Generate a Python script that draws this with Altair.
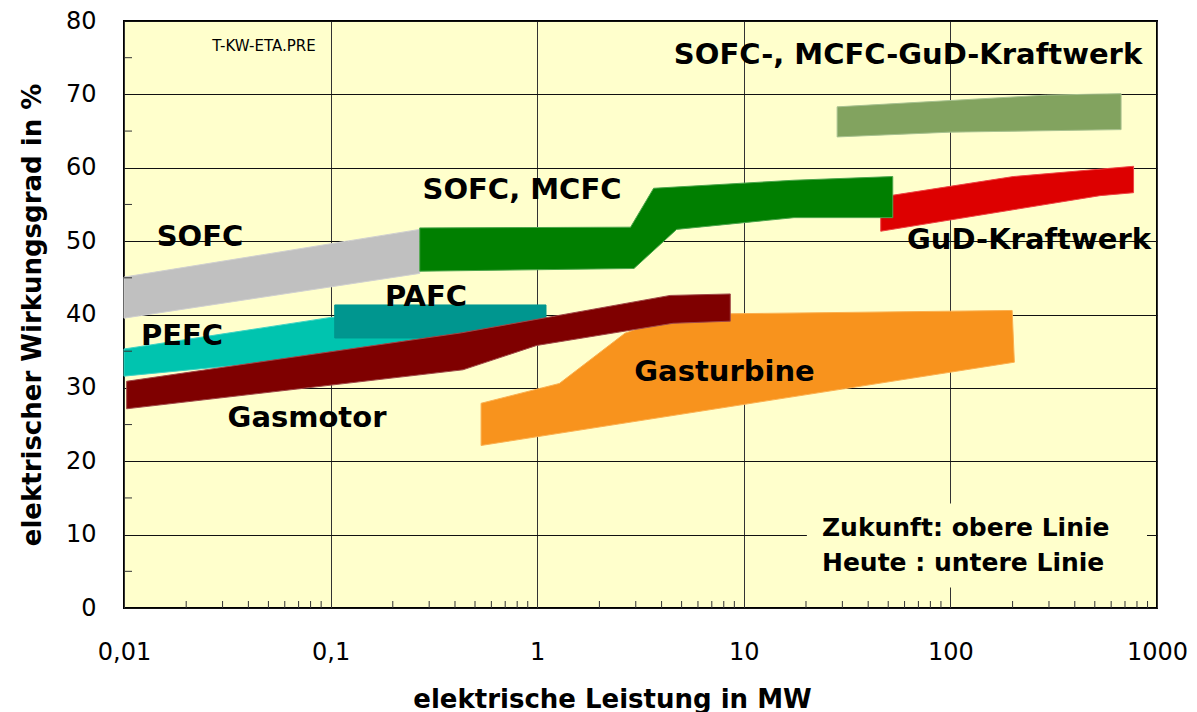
import altair as alt
import pandas as pd

# Efficiency bands: (power in MW, efficiency in %) along the upper (future)
# and lower (today) boundary of each technology.
GASTURBINE_UPPER = [(0.535, 27.9), (1.28, 30.6), (2.66, 37.45), (4.54, 39.75), (8.6, 40.1), (199, 40.55)]
GASTURBINE_LOWER = [(0.535, 22.15), (204, 33.5)]

GUD_UPPER = [(46.0, 56.0), (201.5, 58.8), (770, 60.2)]
GUD_LOWER = [(46.0, 51.35), (530, 56.2), (770, 56.6)]

PEFC_UPPER = [(0.01, 35.3), (0.1, 39.6), (1.0, 41.0)]
PEFC_LOWER = [(0.01, 31.6), (1.0, 37.0)]

PAFC_UPPER = [(0.1047, 41.3), (1.103, 41.3)]
PAFC_LOWER = [(0.1047, 36.8), (1.103, 36.8)]

GASMOTOR_UPPER = [(0.0103, 30.9), (0.43, 37.5), (4.4, 42.6), (8.6, 42.8)]
GASMOTOR_LOWER = [(0.0103, 27.15), (0.437, 32.46), (0.9945, 35.78), (4.54, 38.8), (8.6, 39.09)]

SOFC_UPPER = [(0.01, 45.1), (0.27, 51.6)]
SOFC_LOWER = [(0.01, 39.5), (0.27, 45.6)]

SOFC_MCFC_UPPER = [(0.27, 51.8), (2.83, 51.9), (3.66, 57.2), (17.5, 58.3), (52.6, 58.8)]
SOFC_MCFC_LOWER = [(0.27, 45.9), (2.94, 46.27), (4.73, 51.6), (17.5, 53.2), (52.6, 53.2)]

HYBRID_UPPER = [(28.3, 68.3), (292, 69.9), (670, 70.1)]
HYBRID_LOWER = [(28.3, 64.2), (99.5, 64.85), (670, 65.2)]

# Band labels
LABEL_TEXT = ["SOFC", "SOFC, MCFC", "SOFC-, MCFC-GuD-Kraftwerk", "GuD-Kraftwerk",
              "PAFC", "PEFC", "Gasmotor", "Gasturbine"]
LABEL_X = [0.02332, 0.8441, 62.35, 240.2, 0.2895, 0.01909, 0.0769, 8.065]
LABEL_Y = [50.56, 56.90, 75.43, 50.09, 42.32, 37.03, 25.83, 32.10]

NOTE_TEXT = ["Zukunft: obere Linie", "Heute   : untere Linie"]
NOTE_X = [23.9, 23.9]
NOTE_Y = [10.97, 6.20]

FILE_TAG = "T-KW-ETA.PRE"

X_TICKS = [0.01, 0.1, 1, 10, 100, 1000]
Y_TICKS = [0, 10, 20, 30, 40, 50, 60, 70, 80]
X_MINOR = [m * 10.0 ** e for e in range(-2, 3) for m in range(2, 10)]
Y_MINOR = [5, 15, 25, 35, 45, 55, 65, 75]

W, H = 1033, 587
BG = "#FFFFCC"
FONT = "DejaVu Sans"

x_scale = alt.Scale(type="log", domain=[0.01, 1000], nice=False)
y_scale = alt.Scale(domain=[0, 80], nice=False)

x_axis = alt.Axis(
    values=X_TICKS,
    labelExpr="replace(toString(datum.value), '.', ',')",
    grid=True, gridColor="#333333", gridWidth=1,
    ticks=False, tickSize=0, domain=False,
    labelFont=FONT, labelFontSize=24, labelColor="#000000",
    labelPadding=32, labelFlush=False, labelOverlap=False,
    title="elektrische Leistung in MW",
    titleFont=FONT, titleFontSize=26, titleFontWeight="bold", titleColor="#000000",
    titleX=488, titleY=99, titleAlign="center", titleBaseline="alphabetic",
)
y_axis = alt.Axis(
    values=Y_TICKS,
    grid=True, gridColor="#111111", gridWidth=1,
    ticks=False, tickSize=0, domain=False,
    labelFont=FONT, labelFontSize=24, labelColor="#000000",
    labelPadding=28, labelOverlap=False,
    title="elektrischer Wirkungsgrad in %",
    titleFont=FONT, titleFontSize=26, titleFontWeight="bold", titleColor="#000000",
    titleAngle=270, titleX=-84, titleY=H / 2, titleAlign="center",
    titleBaseline="alphabetic",
)


def polygon(upper, lower):
    pts = list(upper) + list(reversed(lower))
    return pd.DataFrame({"x": [p[0] for p in pts],
                         "y": [p[1] for p in pts],
                         "i": list(range(len(pts)))})


def xq(field):
    return alt.X(field, scale=x_scale, axis=x_axis)


def yq(field):
    return alt.Y(field, scale=y_scale, axis=y_axis)


# drawing order: back to front
BANDS = [
    (GASTURBINE_UPPER, GASTURBINE_LOWER, "#F8931D", "#FBB050"),
    (GUD_UPPER, GUD_LOWER, "#DD0000", "#EE4444"),
    (PEFC_UPPER, PEFC_LOWER, "#00C4AF", "#40D4C4"),
    (PAFC_UPPER, PAFC_LOWER, "#00968F", "#00968F"),
    (GASMOTOR_UPPER, GASMOTOR_LOWER, "#7F0000", "#A04848"),
    (SOFC_UPPER, SOFC_LOWER, "#C0C0C0", "#D0D0D0"),
    (SOFC_MCFC_UPPER, SOFC_MCFC_LOWER, "#007F00", "#4CA64C"),
    (HYBRID_UPPER, HYBRID_LOWER, "#82A35F", "#A8C290"),
]

layers = []
for up, lo, fill, edge in BANDS:
    layers.append(
        alt.Chart(polygon(up, lo)).mark_line(
            fill=fill, stroke=edge, strokeWidth=1, interpolate="linear-closed"
        ).encode(
            x=xq("x:Q"),
            y=yq("y:Q"),
            order=alt.Order("i:Q"),
        )
    )

# inner minor ticks
x_minor = alt.Chart(pd.DataFrame({"v": X_MINOR})).mark_rule(color="#333333", strokeWidth=1).encode(
    x=xq("v:Q"),
    y=alt.value(H - 7), y2=alt.value(H),
)
y_minor = alt.Chart(pd.DataFrame({"v": Y_MINOR})).mark_rule(color="#333333", strokeWidth=1).encode(
    y=yq("v:Q"),
    x=alt.value(0), x2=alt.value(8),
)

# note box hiding the grid behind the explanation text
note_box = alt.Chart(pd.DataFrame({"x0": [20.2], "x1": [894.5], "y0": [14.24], "y1": [2.79]})).mark_rect(
    fill=BG
).encode(
    x=xq("x0:Q"), x2="x1:Q",
    y=yq("y0:Q"), y2="y1:Q",
)

labels = alt.Chart(pd.DataFrame({"t": LABEL_TEXT, "x": LABEL_X, "y": LABEL_Y})).mark_text(
    font=FONT, fontWeight="bold", fontSize=29, align="center", baseline="middle", color="#000000"
).encode(
    x=xq("x:Q"), y=yq("y:Q"), text="t:N",
)

notes = alt.Chart(pd.DataFrame({"t": NOTE_TEXT, "x": NOTE_X, "y": NOTE_Y})).mark_text(
    font=FONT, fontWeight="bold", fontSize=25, align="left", baseline="middle", color="#000000"
).encode(
    x=xq("x:Q"), y=yq("y:Q"), text="t:N",
)

tag = alt.Chart(pd.DataFrame({"t": [FILE_TAG], "x": [0.0476], "y": [76.53]})).mark_text(
    font=FONT, fontSize=15, align="center", baseline="middle", color="#000000"
).encode(
    x=xq("x:Q"), y=yq("y:Q"), text="t:N",
)

chart = alt.layer(
    *layers, x_minor, y_minor, note_box, labels, notes, tag
).properties(
    width=W, height=H,
    autosize=alt.AutoSizeParams(type="none"),
    padding={"left": 124, "top": 21, "right": 40, "bottom": 104},
    background="#FFFFFF",
).configure_view(
    fill=BG, stroke="#000000", strokeWidth=2,
)

chart.save("out.html", embed_options={"renderer": "svg", "actions": False})
